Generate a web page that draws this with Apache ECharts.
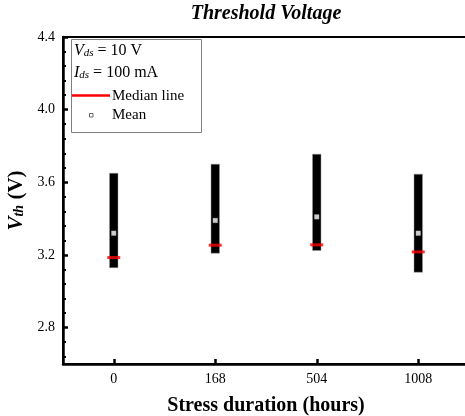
<!DOCTYPE html>
<html>
<head>
<meta charset="utf-8">
<script src="https://cdn.jsdelivr.net/npm/echarts@6/dist/echarts.min.js"></script>
<style>
  html, body { margin: 0; padding: 0; background: #fff; }
  #chart { width: 465px; height: 416px; }
</style>
</head>
<body>
<div id="chart"></div>
<script>
const categories = ['0', '168', '504', '1008']
const boxLow = [3.13, 3.21, 3.225, 3.105]
const boxHigh = [3.65, 3.70, 3.755, 3.645]
const medianValues = [3.186, 3.254, 3.256, 3.217]
const meanValues = [3.32, 3.39, 3.41, 3.32]
const yTickLabels = [2.8, 3.2, 3.6, 4.0, 4.4]
const yMin = 2.6
const yMax = 4.4

const font = 'Liberation Serif'

// minor ticks, 4 between each pair of labelled ticks
const minorTicks = []
const majors = [yTickLabels[0] - 0.4].concat(yTickLabels)
majors.forEach(m => {
  for (let k = 1; k <= 4; k++) {
    const v = +(m + k * 0.08).toFixed(2)
    if (v > yMin && v < yMax) minorTicks.push(v)
  }
})

const boxData = categories.map((c, i) => [i, boxLow[i], boxHigh[i]])

const chart = echarts.init(document.getElementById('chart'))
chart.setOption({
  animation: false,
  backgroundColor: '#fff',
  grid: {
    left: 63,
    top: 37,
    right: -4,
    bottom: 52,
    outerBoundsMode: 'none',
    containLabel: false,
    show: true,
    borderColor: '#000',
    borderWidth: 2,
    backgroundColor: 'transparent'
  },
  graphic: [
    {
      type: 'text',
      x: 266,
      y: 14,
      style: {
        text: 'Threshold Voltage',
        font: 'italic bold 20px "Liberation Serif"',
        fill: '#000',
        align: 'center',
        verticalAlign: 'middle'
      }
    },
    {
      type: 'rect',
      shape: { x: 71.5, y: 39.5, width: 130, height: 93 },
      style: { fill: '#fff', stroke: '#808080', lineWidth: 1 },
      z: 10
    },
    {
      type: 'text',
      x: 74,
      y: 51,
      z: 11,
      style: {
        text: '{i|V}{s|ds}{n| = 10 V}',
        verticalAlign: 'middle',
        rich: {
          i: { fontFamily: font, fontStyle: 'italic', fontSize: 16, fill: '#000' },
          s: { fontFamily: font, fontStyle: 'italic', fontSize: 11, lineHeight: 4, verticalAlign: 'bottom', fill: '#000' },
          n: { fontFamily: font, fontSize: 16, fill: '#000' }
        }
      }
    },
    {
      type: 'text',
      x: 74,
      y: 73,
      z: 11,
      style: {
        text: '{i|I}{s|ds}{n| = 100 mA}',
        verticalAlign: 'middle',
        rich: {
          i: { fontFamily: font, fontStyle: 'italic', fontSize: 16, fill: '#000' },
          s: { fontFamily: font, fontStyle: 'italic', fontSize: 11, lineHeight: 4, verticalAlign: 'bottom', fill: '#000' },
          n: { fontFamily: font, fontSize: 16, fill: '#000' }
        }
      }
    },
    {
      type: 'line',
      shape: { x1: 72, y1: 95.5, x2: 110, y2: 95.5 },
      style: { stroke: '#ff0000', lineWidth: 2.5 },
      z: 11
    },
    {
      type: 'text',
      x: 112,
      y: 96,
      z: 11,
      style: { text: 'Median line', font: '15px "Liberation Serif"', fill: '#000', verticalAlign: 'middle' }
    },
    {
      type: 'rect',
      shape: { x: 89.5, y: 113.5, width: 3.5, height: 3.5 },
      style: { fill: '#fff', stroke: '#444', lineWidth: 0.8 },
      z: 11
    },
    {
      type: 'text',
      x: 112,
      y: 115,
      z: 11,
      style: { text: 'Mean', font: '15px "Liberation Serif"', fill: '#000', verticalAlign: 'middle' }
    }
  ],
  xAxis: {
    type: 'category',
    data: categories,
    boundaryGap: true,
    name: 'Stress duration (hours)',
    nameLocation: 'middle',
    nameGap: 32,
    nameTextStyle: { fontFamily: font, fontWeight: 'bold', fontSize: 20, color: '#000' },
    axisLine: { show: true, lineStyle: { color: '#000', width: 2.5 } },
    axisTick: { show: true, inside: true, alignWithLabel: true, length: 5, lineStyle: { color: '#000', width: 2.5 } },
    axisLabel: { color: '#000', fontFamily: font, fontSize: 14, margin: 8 },
    splitLine: { show: false }
  },
  yAxis: [
    {
      type: 'value',
      min: yMin,
      max: yMax,
      name: '{v|V}{s|th}{n| (V)}',
      nameLocation: 'middle',
      nameGap: 35,
      nameTextStyle: {
        rich: {
          v: { fontFamily: font, fontStyle: 'italic', fontWeight: 'bold', fontSize: 21, color: '#000' },
          s: { fontFamily: font, fontStyle: 'italic', fontWeight: 'bold', fontSize: 14, lineHeight: 4, verticalAlign: 'bottom', color: '#000' },
          n: { fontFamily: font, fontWeight: 'bold', fontSize: 21, color: '#000' }
        }
      },
      axisLine: { show: true, lineStyle: { color: '#000', width: 2.5 } },
      axisTick: { show: true, inside: true, length: 5, customValues: yTickLabels, lineStyle: { color: '#000', width: 2.5 } },
      axisLabel: {
        color: '#000', fontFamily: font, fontSize: 14, margin: 8,
        customValues: yTickLabels,
        formatter: v => v.toFixed(1)
      },
      splitLine: { show: false }
    },
    {
      type: 'value',
      min: yMin,
      max: yMax,
      position: 'left',
      offset: 0,
      axisLine: { show: false },
      axisTick: { show: true, inside: true, length: 3, customValues: minorTicks, lineStyle: { color: '#000', width: 2 } },
      axisLabel: { show: false },
      splitLine: { show: false }
    }
  ],
  series: [
    {
      type: 'custom',
      data: boxData,
      encode: { x: 0, y: [1, 2] },
      z: 2,
      renderItem(params, api) {
        const x = api.value(0)
        const lo = api.coord([x, api.value(1)])
        const hi = api.coord([x, api.value(2)])
        const w = 8.5
        return {
          type: 'rect',
          shape: { x: lo[0] - w / 2, y: hi[1], width: w, height: lo[1] - hi[1] },
          style: { fill: '#000', stroke: '#999', lineWidth: 0.5 }
        }
      }
    },
    {
      type: 'scatter',
      data: medianValues,
      symbol: 'rect',
      symbolSize: [13, 3],
      itemStyle: { color: '#ff0000' },
      z: 3
    },
    {
      type: 'scatter',
      data: meanValues,
      symbol: 'rect',
      symbolSize: 4.5,
      itemStyle: { color: '#fff', borderColor: '#bbb', borderWidth: 0.5 },
      z: 4
    }
  ]
})
</script>
</body>
</html>
